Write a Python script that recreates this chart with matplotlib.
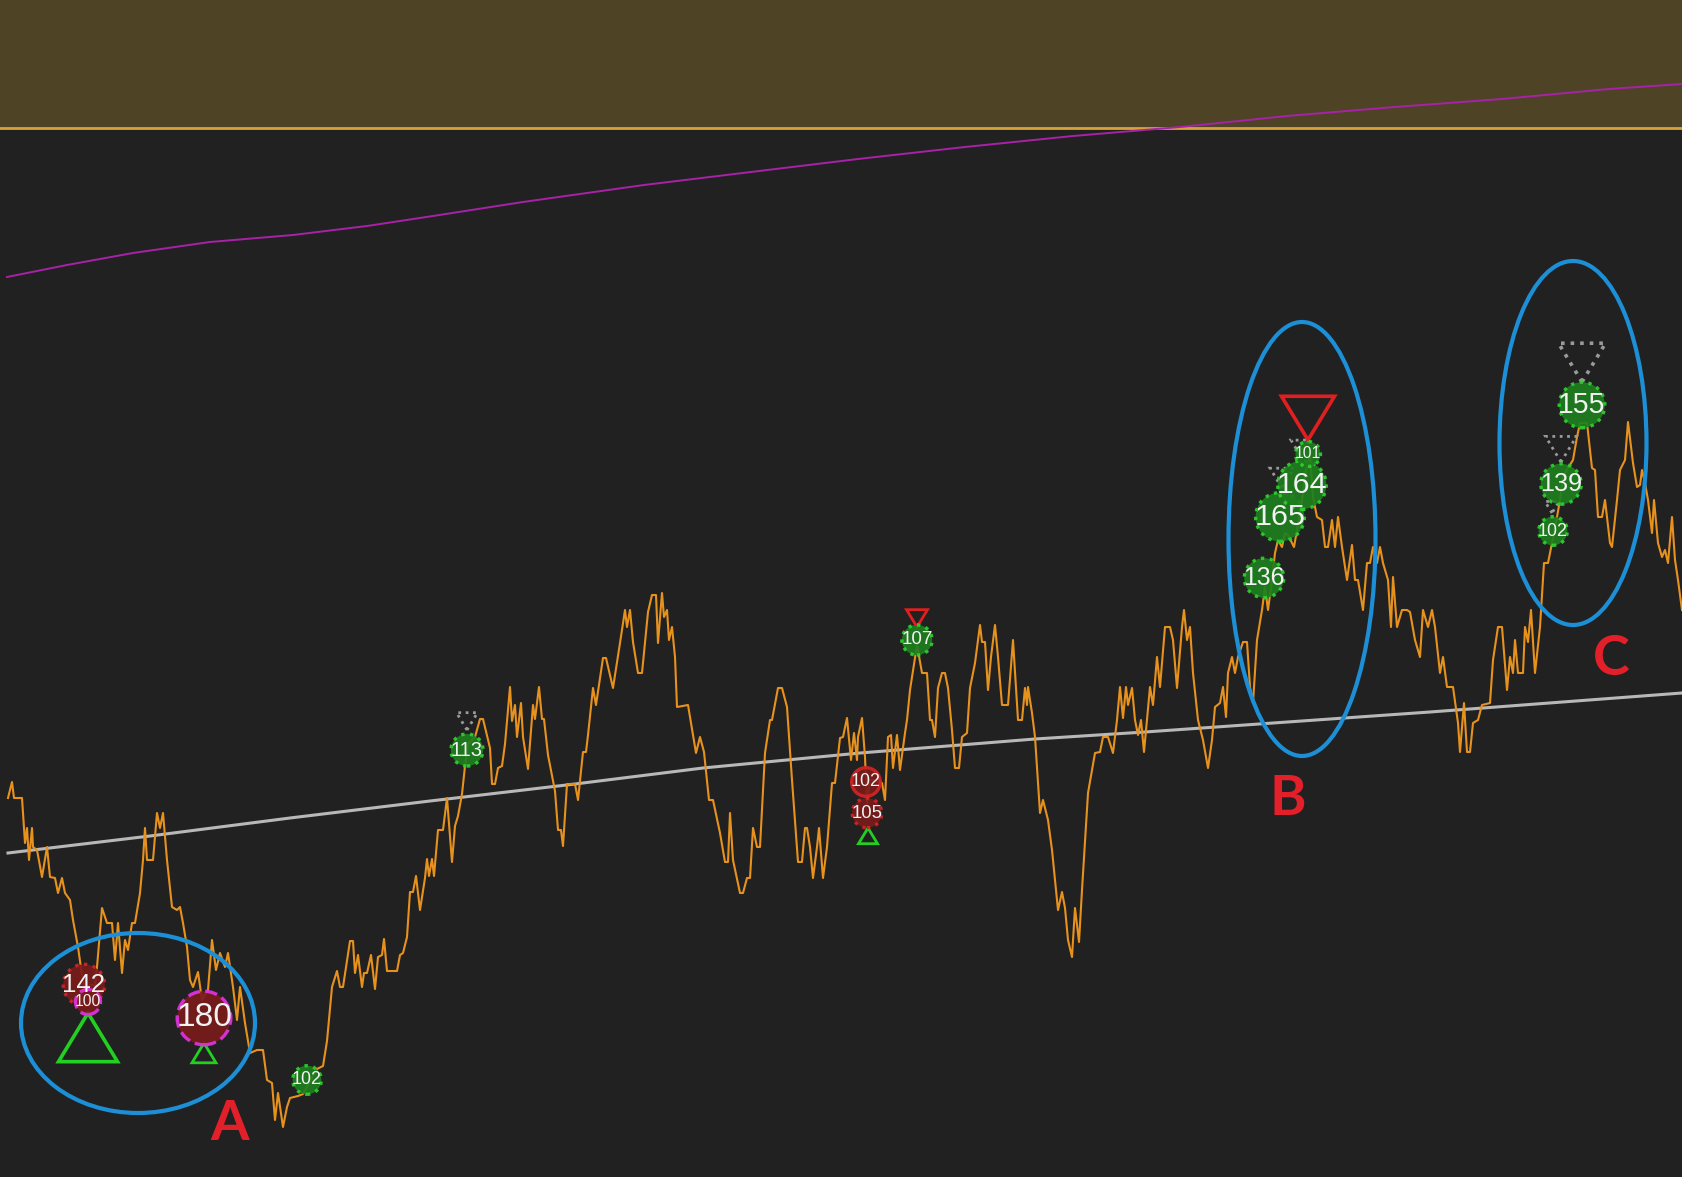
import matplotlib.pyplot as plt
from matplotlib.patches import Circle, Ellipse, Polygon

# price path (time position, close)
t = [8, 12, 14, 22, 25, 27, 29, 32, 33, 37, 42, 47, 50, 55, 58, 62, 65, 70, 73, 78,
     82, 85, 90, 95, 97, 102, 107, 112, 115, 118, 122, 125, 128, 132, 135, 140, 143, 145, 147, 153,
     157, 160, 163, 167, 172, 177, 180, 183, 187, 190, 193, 198, 202, 208, 212, 216, 220, 225, 228, 233,
     237, 240, 245, 250, 257, 263, 267, 272, 275, 278, 283, 287,
     290, 298, 303, 317, 323, 327, 332, 337, 340, 343, 350, 353, 355, 358, 362, 364, 367, 371, 375, 378,
     382, 384, 387, 397, 400, 403, 407, 410, 413, 416, 420, 425, 427, 429, 432, 434, 438, 443, 447, 452,
     455, 458, 462, 465, 468, 475, 480, 483, 490, 492, 495, 498, 502, 505, 510, 512, 515, 517, 521, 523,
     528, 533, 535, 539, 542, 544, 548, 555, 558, 561, 563, 567, 575,
     578, 583, 586, 588, 593, 596, 603, 606, 613, 620, 625, 627, 630, 633, 638, 642, 648, 652, 656, 658,
     662, 664, 667, 669, 672, 675, 677, 688, 696, 700, 704, 709, 713, 720, 725, 728, 730, 733, 740, 743,
     747, 750, 753, 757, 760, 765, 770, 772, 778, 782, 787, 792, 798, 802, 805, 807, 810, 813, 817, 819,
     823, 827, 832, 835, 840, 843, 847, 851, 854, 857,
     858, 862, 865, 867, 870, 873, 878, 882, 885, 888, 891, 893, 897, 900, 905, 907, 910, 917, 922, 927,
     930, 932, 935, 938, 942, 945, 948, 952, 955, 959, 962, 967, 970, 975, 980, 982, 985, 988, 991, 995,
     998, 1002, 1008, 1013, 1018, 1022, 1025, 1027, 1028, 1032, 1035, 1040, 1043, 1048, 1052, 1058, 1062, 1065, 1068, 1072,
     1075, 1079, 1082, 1088, 1095, 1100, 1103, 1108, 1113, 1117, 1120, 1123, 1126, 1128, 1132, 1135, 1138, 1141, 1144,
     1150, 1153, 1157, 1160, 1165, 1170, 1173, 1177, 1182, 1184, 1187, 1190, 1193, 1198, 1203, 1208, 1212, 1215, 1220, 1223,
     1226, 1228, 1232, 1235, 1238, 1243, 1247, 1250, 1253, 1257, 1262, 1265, 1268, 1272, 1275, 1278, 1282, 1285, 1288, 1294,
     1297, 1302, 1306, 1310, 1313, 1317, 1322, 1325, 1328, 1332, 1335, 1338, 1342, 1347, 1352, 1355, 1358, 1363, 1367, 1370,
     1373, 1377, 1380, 1383, 1388, 1391, 1393, 1397, 1402, 1407, 1410, 1415, 1420, 1423,
     1428, 1432, 1435, 1440, 1443, 1447, 1453, 1458, 1460, 1464, 1467, 1470, 1473, 1478, 1482, 1490, 1493, 1498, 1502, 1507,
     1510, 1513, 1515, 1518, 1523, 1525, 1528, 1531, 1535, 1540, 1544, 1548, 1552, 1557, 1560, 1563, 1568, 1573, 1577, 1580,
     1587, 1592, 1595, 1598, 1602, 1605, 1610, 1612, 1617, 1620, 1625, 1628, 1633, 1637, 1640, 1642, 1645, 1648, 1652, 1654,
     1658, 1662, 1665, 1668, 1672, 1675, 1678, 1682]
close = [402, 418, 402, 402, 357, 372, 340, 372, 353, 350, 323, 353, 323, 322, 307, 322, 307, 300, 280, 253,
         225, 210, 215, 215, 233, 292, 277, 277, 240, 277, 227, 260, 250, 277, 277, 307, 340, 372, 340, 340,
         387, 372, 387, 340, 293, 290, 293, 277, 253, 220, 213, 228, 200, 210, 260, 230, 247, 233, 247, 213,
         180, 213, 177, 147, 150, 150, 120, 117, 80, 107, 73, 93,
         102, 104, 106, 131, 134, 159, 213, 229, 213, 213, 259, 259, 227, 245, 213, 227, 227, 245, 211, 243,
         245, 261, 229, 229, 245, 247, 263, 308, 308, 324, 290, 322, 341, 324, 341, 324, 370, 370, 402, 338,
         374, 384, 406, 434, 456, 463, 481, 481, 452, 416, 416, 432, 434, 456, 513, 479, 495, 463, 497, 463,
         431, 495, 481, 513, 481, 481, 445, 409, 370, 370, 354, 416, 416,
         400, 448, 448, 465, 512, 495, 542, 542, 512, 557, 590, 573, 590, 558, 527, 527, 588, 605, 605, 557,
         607, 583, 590, 560, 573, 543, 493, 495, 447, 463, 448, 400, 400, 367, 338, 338, 387, 340, 307, 307,
         322, 322, 372, 353, 353, 447, 480, 480, 512, 512, 493, 420, 338, 338, 372, 372, 353, 322, 353, 372,
         322, 353, 417, 417, 462, 463, 482, 440, 467, 440,
         463, 482, 443, 395, 420, 420, 418, 417, 400, 463, 465, 432, 465, 430, 467, 480, 510, 555, 527, 527,
         480, 480, 463, 512, 527, 527, 512, 470, 432, 432, 463, 467, 512, 537, 575, 558, 558, 510, 543, 575,
         543, 495, 495, 560, 480, 480, 512, 495, 513, 487, 463, 387, 400, 380, 350, 290, 308, 292, 260, 243,
         292, 258, 310, 407, 447, 448, 463, 463, 447, 480, 513, 482, 513, 495, 512, 480, 465, 480, 448,
         513, 495, 543, 513, 573, 573, 560, 512, 573, 590, 560, 573, 527, 480, 460, 432, 460, 493, 497, 513,
         483, 527, 543, 527, 543, 558, 558, 513, 497, 560, 590, 613, 590, 620, 647, 660, 653, 667, 665, 653,
         670, 700, 730, 745, 703, 683, 680, 653, 653, 680, 653, 683, 653, 620, 655, 620, 620, 590, 637, 637,
         653, 637, 653, 637, 620, 573, 623, 573, 590, 590, 588, 560, 543, 590,
         573, 590, 573, 527, 543, 513, 513, 477, 448, 497, 448, 448, 477, 480, 495, 497, 540, 573, 573, 510,
         543, 527, 560, 527, 527, 573, 558, 590, 527, 573, 637, 637, 657, 683, 700, 723, 732, 740, 763, 777,
         777, 732, 730, 683, 683, 700, 657, 653, 700, 730, 740, 778, 737, 713, 715, 730, 717, 700, 667, 700,
         657, 643, 650, 637, 683, 640, 620, 590]

# slow moving average
ma_t = [8, 150, 290, 430, 575, 703, 860, 1035, 1145, 1430, 1682]
ma_val = [347, 364, 382, 399, 416, 432, 447, 461, 468, 488, 507]

# upper trend line
trend_t = [7, 67, 133, 210, 293, 367, 433, 523, 644, 751, 858, 965, 1073, 1180, 1287, 1395, 1502, 1609, 1682]
trend_val = [923, 935, 947, 958, 965, 974, 984, 998, 1015, 1028, 1041, 1053, 1064, 1073, 1084, 1093, 1101, 1111, 1116]

zone_low = 1072

# signal bubbles: time, price, count, kind
bub_t = [84, 88, 204, 307, 467, 866, 867, 917, 1264, 1280, 1302, 1308, 1553, 1561, 1582]
bub_p = [215, 198, 182, 120, 450, 418, 387, 560, 622, 683, 715, 746, 669, 716, 795]
bub_n = [142, 100, 180, 102, 113, 102, 105, 107, 136, 165, 164, 101, 102, 139, 155]
bub_kind = ['red', 'mag', 'mag', 'green', 'green', 'redsolid', 'red', 'green',
            'green', 'green', 'green', 'green', 'green', 'green', 'green']

# triangle signals: time, apex price, strength, kind
tri_t = [88, 204, 868, 917, 1308, 467, 1300, 1282, 1582, 1561, 1552]
tri_p = [187, 157, 372, 573, 760, 470, 745, 712, 818, 738, 687]
tri_s = [29.5, 12, 9.5, 10.5, 26.5, 10.5, 9, 12, 23.5, 15.5, 7]
tri_kind = ['buy', 'buy', 'buy', 'sell', 'sell', 'grey', 'grey', 'grey', 'grey', 'grey', 'grey']

# highlighted zones
zone_names = ['A', 'B', 'C']
zone_t = [138, 1302, 1573]
zone_p = [177, 661, 757]
zone_w = [234, 147, 147]
zone_h = [180, 434, 364]
label_t = [230, 1288, 1611]
label_p = [60, 385, 525]

fig = plt.figure(figsize=(16.82, 11.77), dpi=100, facecolor='#212121')
ax = fig.add_axes([0, 0, 1, 1])
ax.set_facecolor('#212121')
ax.set_xlim(0, 1682)
ax.set_ylim(23, 1200)
ax.axis('off')

ax.axhspan(zone_low, 1200, color='#4f4325', zorder=0)
ax.axhline(zone_low, color='#d6a33a', lw=2, zorder=1)
ax.plot(trend_t, trend_val, color='#a822a8', lw=1.4, zorder=2)
ax.plot(ma_t, ma_val, color='#b8b8b8', lw=2.2, zorder=2)
ax.plot(t, close, color='#e8921e', lw=1.5, zorder=3)

tri_style = {'buy': ('#22d022', '-'), 'sell': ('#e02020', '-'), 'grey': ('#9a9a9a', ':')}
for x, p, s, k in zip(tri_t, tri_p, tri_s, tri_kind):
    col, ls = tri_style[k]
    h = 1.65 * s
    if k == 'buy':
        pts = [(x, p), (x - s, p - h), (x + s, p - h)]
    else:
        pts = [(x, p), (x - s, p + h), (x + s, p + h)]
    lw = 2.6 if s > 20 else 2.0
    ax.add_patch(Polygon(pts, closed=True, fill=False, edgecolor=col, lw=lw,
                         linestyle=ls, zorder=4))

bub_style = {
    'green': ('#1e7f1e', '#2fd02f', ':'),
    'red': ('#7a1b1b', '#d02525', ':'),
    'redsolid': ('#7a1b1b', '#d02525', '-'),
    'mag': ('#7a1b1b', '#e033e0', '--'),
}
for x, p, n, k in zip(bub_t, bub_p, bub_n, bub_kind):
    fc, ec, ls = bub_style[k]
    r = 0.16 * n - 2
    if n <= 101:
        r = 12.5
    ax.add_patch(Circle((x, p), r, facecolor=fc, edgecolor=ec, lw=2.4,
                        linestyle=ls, alpha=0.92, zorder=5))
    ax.text(x, p, str(n), color='#f2f2f2', ha='center', va='center',
            fontsize=r * 0.9, family='Liberation Sans', zorder=6)

for name, x, p, w, h, lx, lp in zip(zone_names, zone_t, zone_p, zone_w, zone_h, label_t, label_p):
    ax.add_patch(Ellipse((x, p), w, h, fill=False, edgecolor='#1c8fd6', lw=3, zorder=7))
    ax.text(lx, lp, name, color='#e3202a', fontsize=40, fontweight='bold',
            family='Lato', ha='center', va='baseline', zorder=7)

fig.savefig('out.png', dpi=100, facecolor=fig.get_facecolor())
plt.close(fig)
